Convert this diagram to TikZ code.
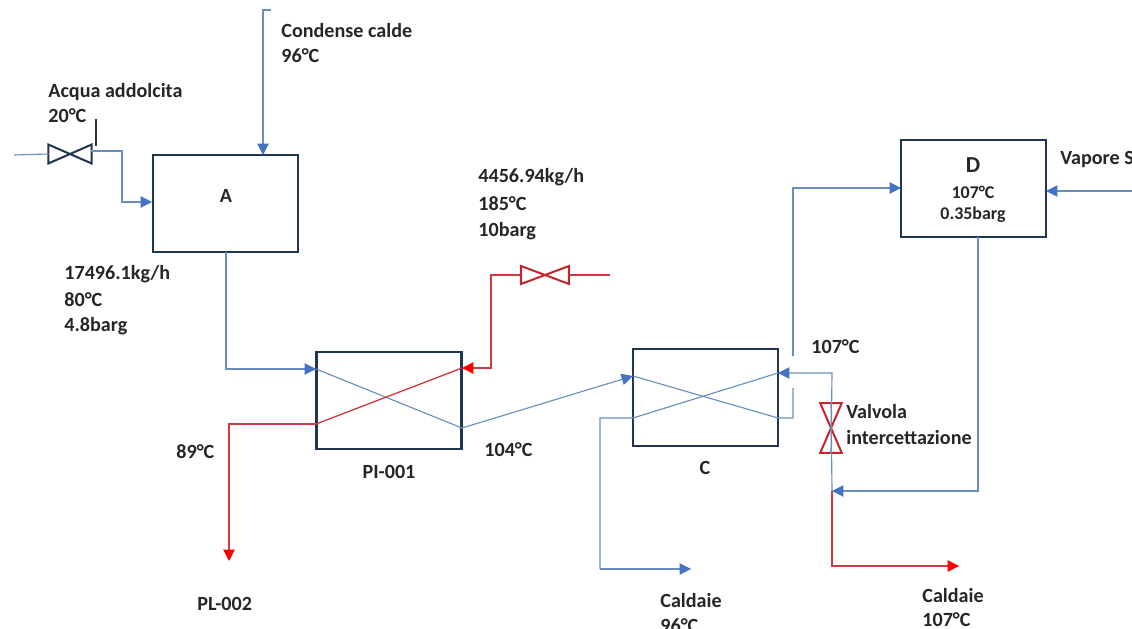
\documentclass[tikz,border=0pt]{standalone}
\usepackage{xcolor}
\usepackage{fontspec}
\setmainfont{Carlito}
\usetikzlibrary{arrows.meta}
\definecolor{bordo}{HTML}{1F3552}
\definecolor{blu}{HTML}{6A8FBF}
\definecolor{punta}{HTML}{4472C4}
\definecolor{rosso}{HTML}{CC3B42}
\definecolor{valvrosso}{HTML}{C0282C}
\tikzset{
	box/.style={draw=bordo,line width=1.2pt,minimum width=2.9cm,minimum height=1.94cm,inner sep=0,outer sep=0},
	lab/.style={anchor=west,inner sep=0,font=\fontsize{11.45}{13}\selectfont\bfseries,text=black!85},
	cen/.style={inner sep=0,font=\fontsize{11.45}{13}\selectfont\bfseries,text=black!85},
	piccolo/.style={cen,font=\fontsize{10.2}{12}\selectfont\bfseries},
	linea/.style={draw=blu,line width=0.65pt},
	lineab/.style={linea,-{Triangle[length=6.5pt,width=6.5pt,color=punta]}},
	linear/.style={draw=rosso,line width=0.75pt},
	linearr/.style={linear,-{Triangle[length=6.5pt,width=6.5pt,color=red]}},
	valvola/.pic={
		\draw[pic actions,line width=1.15pt] (-24,-9) -- (24,9) -- (24,-9) -- (-24,9) -- cycle;
		\coordinate (-w) at (-24,0);
		\coordinate (-e) at (24,0);
	}
}
\begin{document}
\begin{tikzpicture}[x=0.2mm,y=-0.2mm]
\useasboundingbox (0,0) rectangle (1132,629);
\clip (0,0) rectangle (1132,629);
%	apparatus
\node[box] (A) at (225.5,203.5) {};
\node[box] (PI) at (389,400.5) {};
\node[box] (C) at (705.5,397.5) {};
\node[box] (D) at (973.5,188.5) {};
%	valves
\pic[draw=bordo,xscale=0.9,yscale=1.05] (va) at (70,154) {valvola};
\pic[draw=valvrosso] (vb) at (545,275) {valvola};
\pic[draw=valvrosso,rotate=90,xscale=1.04,yscale=1.2] (vc) at (831,428) {valvola};
%	free ends and bends
\coordinate (in) at (14,155);
\coordinate (vaout) at (91,151);
\coordinate (b1) at (122,151);
\coordinate (b2) at (122,202);
\coordinate (Aw) at (152,202);
\coordinate (c0) at (271,10);
\coordinate (c1) at (263,10);
\coordinate (An) at (263,155);
\coordinate (As) at (226,252);
\coordinate (b3) at (226,369);
\coordinate (PIa) at (316,369);
\coordinate (PIb) at (462,428);
\coordinate (PIc) at (462,368);
\coordinate (PId) at (316,424);
\coordinate (b4) at (229,424);
\coordinate (pl) at (229,561);
\coordinate (st) at (610,275);
\coordinate (b5) at (491,275);
\coordinate (b6) at (491,368);
\coordinate (Ca) at (633,376);
\coordinate (Cb) at (778,418);
\coordinate (b7) at (793,418);
\coordinate (b8) at (793,388);
\coordinate (b9) at (793,356);
\coordinate (b10) at (793,188);
\coordinate (Dw) at (901,188);
\coordinate (b11) at (832,373);
\coordinate (Cc) at (778,373);
\coordinate (Cd) at (633,418);
\coordinate (b12) at (600,418);
\coordinate (b13) at (600,569);
\coordinate (cal) at (691,569);
\coordinate (m) at (832,491);
\coordinate (Ds) at (978,237);
\coordinate (b14) at (978,491);
\coordinate (b15) at (832,566);
\coordinate (cbl) at (959,566);
\coordinate (vap) at (1132,191);
\coordinate (De) at (1046,191);
\coordinate (t0) at (96,119);
\coordinate (t1) at (96,146);
%	blue lines
\draw[linea] (in) -- (va-w);
\draw[lineab] (vaout) -- (b1) -- (b2) -- (Aw);
\draw[lineab] (c0) -- (c1) -- (An);
\draw[lineab] (As) -- (b3) -- (PIa);
\draw[linea] (PIa) -- (PIb);
\draw[lineab] (PIb) -- (Ca);
\draw[linea] (Ca) -- (Cb) -- (b7) -- (b8);
\draw[lineab] (b9) -- (b10) -- (Dw);
\draw[lineab] (vc-w) -- (b11) -- (Cc);
\draw[linea] (Cc) -- (Cd) -- (b12) -- (b13);
\draw[lineab] (b13) -- (cal);
\draw[linea] (vc-e) -- (m);
\draw[lineab] (Ds) -- (b14) -- (m);
\draw[lineab] (vap) -- (De);
%	red lines
\draw[linear] (st) -- (vb-e);
\draw[linearr] (vb-w) -- (b5) -- (b6) -- (PIc);
\draw[linear] (PIc) -- (PId);
\draw[linearr] (PId) -- (b4) -- (pl);
\draw[linearr] (m) -- (b15) -- (cbl);
\draw[line width=0.6pt,black!80] (t0) -- (t1);
%	labels
\node[lab] (l1) at (281,31) {Condense calde};
\node[lab] (l2) at (281,56) {96°C};
\node[lab] (l3) at (48,92) {Acqua addolcita};
\node[lab] (l4) at (48,116) {20°C};
\node[lab] (l5) at (64,274) {17496.1kg/h};
\node[lab] (l6) at (64,300) {80°C};
\node[lab] (l7) at (64,326) {4.8barg};
\node[lab] (l8) at (478,177) {4456.94kg/h};
\node[lab] (l9) at (478,204) {185°C};
\node[lab] (l10) at (478,231) {10barg};
\node[cen] (nA) at (226,196) {A};
\node[cen,font=\fontsize{13}{15}\selectfont\bfseries] (nD) at (973,165) {D};
\node[piccolo] (d1) at (973,192) {107°C};
\node[piccolo] (d2) at (973,215) {0.35barg};
\node[lab] (l11) at (1060,159) {Vapore S};
\node[lab] (l12) at (811,347) {107°C};
\node[lab] (l13) at (846,412) {Valvola};
\node[lab] (l14) at (846,438) {intercettazione};
\node[lab] (l15) at (176,452) {89°C};
\node[lab] (l16) at (484,450) {104°C};
\node[cen] (nPI) at (389,472) {PI-001};
\node[cen] (nC) at (705,468) {C};
\node[lab] (l17) at (197,604) {PL-002};
\node[lab] (l18) at (660,601) {Caldaie};
\node[lab] (l19) at (660,626) {96°C};
\node[lab] (l20) at (922,596) {Caldaie};
\node[lab] (l21) at (922,620) {107°C};
\end{tikzpicture}
\end{document}
